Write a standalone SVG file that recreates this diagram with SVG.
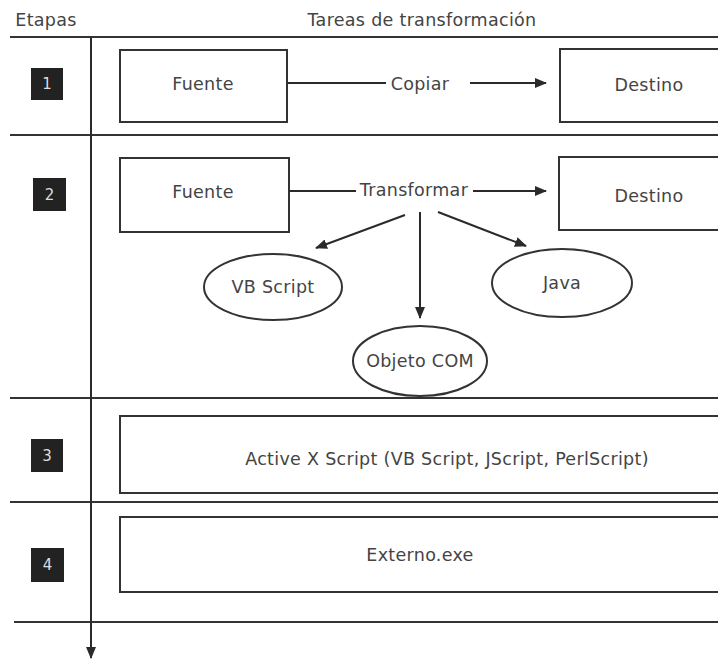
<svg xmlns="http://www.w3.org/2000/svg" width="718" height="660" viewBox="0 0 718 660">
<defs>
<marker id="ah" viewBox="0 0 12 10" refX="11" refY="5" markerWidth="12" markerHeight="10" markerUnits="userSpaceOnUse" orient="auto">
<path d="M0,0 L12,5 L0,10 Z" fill="#2a2a2a"/>
</marker>
<style>
.t{font-family:"DejaVu Sans","Liberation Sans",sans-serif;font-size:17.5px;letter-spacing:0.3px;fill:#444;text-anchor:middle;dominant-baseline:central}
.box{fill:#fff;stroke:#333;stroke-width:2}
.sep{stroke:#333;stroke-width:2;fill:none}
.num{fill:#222}
.nt{font-family:"DejaVu Sans","Liberation Sans",sans-serif;font-size:15px;fill:#ddd;text-anchor:middle;dominant-baseline:central}
.c{stroke:#2a2a2a;stroke-width:2;fill:none}
</style>
</defs>
<rect width="718" height="660" fill="#fff"/>
<g id="header">
<text class="t" x="46" y="20">Etapas</text>
<text class="t" x="422" y="20">Tareas de transformación</text>
</g>
<g id="grid">
<line class="sep" x1="10" y1="37" x2="718" y2="37"/>
<line class="sep" x1="10" y1="135" x2="718" y2="135"/>
<line class="sep" x1="10" y1="398" x2="718" y2="398"/>
<line class="sep" x1="10" y1="502" x2="718" y2="502"/>
<line class="sep" x1="14" y1="622" x2="718" y2="622"/>
</g>
<g id="stage1">
<rect class="num" x="31" y="68" width="32" height="32"/>
<text class="nt" x="47" y="84">1</text>
</g>
<g id="stage2">
<rect class="num" x="33" y="178" width="33" height="33"/>
<text class="nt" x="49.5" y="195">2</text>
</g>
<g id="stage3">
<rect class="num" x="31" y="439" width="32" height="33"/>
<text class="nt" x="47" y="456">3</text>
</g>
<g id="stage4">
<rect class="num" x="31" y="548" width="33" height="34"/>
<text class="nt" x="47.5" y="565">4</text>
</g>
<g id="fuente1">
<rect class="box" x="120" y="50" width="167" height="72"/>
<text class="t" x="203" y="84">Fuente</text>
</g>
<g id="destino1">
<rect class="box" x="560" y="49" width="170" height="73"/>
<text class="t" x="649" y="85">Destino</text>
</g>
<g id="copiar">
<text class="t" x="420" y="84">Copiar</text>
</g>
<g id="fuente2">
<rect class="box" x="120" y="158" width="169" height="74"/>
<text class="t" x="203" y="192">Fuente</text>
</g>
<g id="destino2">
<rect class="box" x="559" y="157" width="170" height="73"/>
<text class="t" x="649" y="196">Destino</text>
</g>
<g id="transformar">
<text class="t" x="414" y="190">Transformar</text>
</g>
<g id="vbscript">
<ellipse class="box" cx="273" cy="287" rx="69" ry="33"/>
<text class="t" x="273" y="287">VB Script</text>
</g>
<g id="java">
<ellipse class="box" cx="562" cy="283" rx="70" ry="34"/>
<text class="t" x="562" y="283">Java</text>
</g>
<g id="objetocom">
<ellipse class="box" cx="420" cy="361" rx="67" ry="35"/>
<text class="t" x="420" y="361">Objeto COM</text>
</g>
<g id="activex">
<rect class="box" x="120" y="416" width="600" height="77"/>
<text class="t" x="447" y="459">Active X Script (VB Script, JScript, PerlScript)</text>
</g>
<g id="externo">
<rect class="box" x="120" y="517" width="600" height="75"/>
<text class="t" x="420" y="555">Externo.exe</text>
</g>
<g id="connectors">
<line class="c" x1="91" y1="37" x2="91" y2="658" marker-end="url(#ah)"/>
<line class="c" x1="287" y1="83" x2="386" y2="83"/>
<line class="c" x1="470" y1="83" x2="546" y2="83" marker-end="url(#ah)"/>
<line class="c" x1="289" y1="191" x2="356" y2="191"/>
<line class="c" x1="473" y1="191" x2="546" y2="191" marker-end="url(#ah)"/>
<line class="c" x1="405" y1="215" x2="316" y2="248" marker-end="url(#ah)"/>
<line class="c" x1="420" y1="212" x2="420" y2="318" marker-end="url(#ah)"/>
<line class="c" x1="438" y1="212" x2="526" y2="246" marker-end="url(#ah)"/>
</g>
</svg>
